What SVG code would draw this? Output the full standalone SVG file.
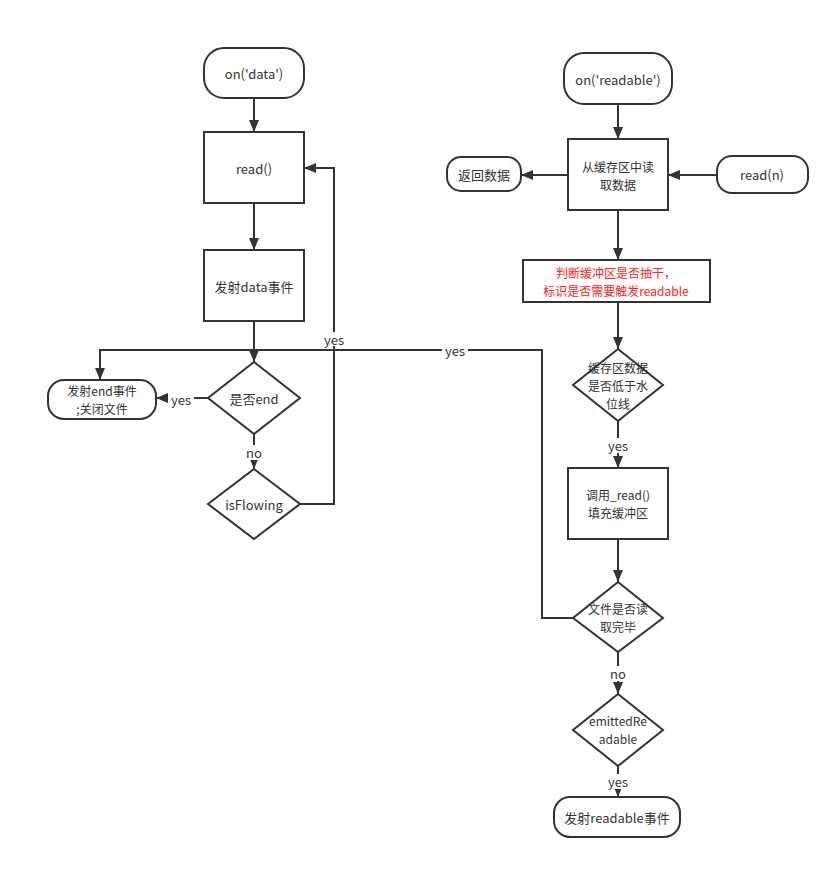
<svg xmlns="http://www.w3.org/2000/svg" width="840" height="869" viewBox="0 0 840 869">
<defs>
<marker id="arr" viewBox="0 0 12 10" refX="12" refY="5" markerWidth="12" markerHeight="10" markerUnits="userSpaceOnUse" orient="auto">
<path d="M0,0 L12,5 L0,10 Z" fill="#333"/>
</marker>
</defs>
<style>
.n{fill:#fff;stroke:#333;stroke-width:2}
.t{font-family:"Noto Sans CJK SC","Open Sans",sans-serif;font-size:13px;fill:#333;text-anchor:middle;dominant-baseline:central}
.m{font-size:12px}
.r{fill:#ff2222}
.c{fill:none;stroke:#333;stroke-width:2}
.lb{font-family:"Noto Sans CJK SC","Open Sans",sans-serif;font-size:13px;fill:#333;text-anchor:middle;dominant-baseline:central}
.lbg{fill:#fff}
</style>
<rect width="840" height="869" fill="#fff"/>
<g id="connectors">
<path class="c" d="M254,98 V132" marker-end="url(#arr)"/>
<path class="c" d="M254,203 V250" marker-end="url(#arr)"/>
<path class="c" d="M254,321 V362" marker-end="url(#arr)"/>
<path class="c" d="M208,398 H156" marker-end="url(#arr)"/>
<path class="c" d="M254,434 V469" marker-end="url(#arr)"/>
<path class="c" d="M300,504 H334 V168 H304" marker-end="url(#arr)"/>
<path class="c" d="M573,618 H542 V350 H100 V380" marker-end="url(#arr)"/>
<path class="c" d="M618,104 V139" marker-end="url(#arr)"/>
<path class="c" d="M568,175 H521" marker-end="url(#arr)"/>
<path class="c" d="M717,175 H668" marker-end="url(#arr)"/>
<path class="c" d="M618,210 V260" marker-end="url(#arr)"/>
<path class="c" d="M618,302 V349" marker-end="url(#arr)"/>
<path class="c" d="M618,421 V468" marker-end="url(#arr)"/>
<path class="c" d="M618,539 V582" marker-end="url(#arr)"/>
<path class="c" d="M618,652 V694" marker-end="url(#arr)"/>
<path class="c" d="M618,766 V797" marker-end="url(#arr)"/>
<rect class="lbg" x="168" y="391" width="26" height="15"/>
<text class="lb" x="181" y="399">yes</text>
<rect class="lbg" x="244" y="445" width="20" height="15"/>
<text class="lb" x="254" y="452">no</text>
<rect class="lbg" x="321" y="332" width="26" height="14"/>
<text class="lb" x="334" y="339">yes</text>
<rect class="lbg" x="442" y="343" width="26" height="14"/>
<text class="lb" x="455" y="350">yes</text>
<rect class="lbg" x="605" y="438" width="26" height="15"/>
<text class="lb" x="618" y="445">yes</text>
<rect class="lbg" x="608" y="666" width="20" height="15"/>
<text class="lb" x="618" y="673">no</text>
<rect class="lbg" x="605" y="774" width="26" height="15"/>
<text class="lb" x="618" y="781">yes</text>
</g>
<g id="on-data"><rect class="n" x="204" y="48" width="100" height="50" rx="20"/><text class="t" x="254" y="73">on('data')</text></g>
<g id="read"><rect class="n" x="204" y="132" width="100" height="71"/><text class="t" x="254" y="168">read()</text></g>
<g id="emit-data"><rect class="n" x="204" y="250" width="100" height="71"/><text class="t" x="254" y="286">发射data事件</text></g>
<g id="is-end"><path class="n" d="M254,362 L300,398 L254,434 L208,398 Z"/><text class="t" x="254" y="398">是否end</text></g>
<g id="emit-end"><rect class="n" x="48" y="380" width="108" height="39" rx="16"/><text class="t m" x="102" y="390.5">发射end事件</text><text class="t m" x="102" y="408.5">;关闭文件</text></g>
<g id="is-flowing"><path class="n" d="M254,469 L300,504 L254,539 L208,504 Z"/><text class="t" x="254" y="504">isFlowing</text></g>
<g id="on-readable"><rect class="n" x="564" y="53" width="108" height="51" rx="20"/><text class="t" x="618" y="79">on('readable')</text></g>
<g id="read-buffer"><rect class="n" x="568" y="139" width="100" height="71"/><text class="t m" x="618" y="166">从缓存区中读</text><text class="t m" x="618" y="184">取数据</text></g>
<g id="return-data"><rect class="n" x="447" y="157" width="74" height="34" rx="14"/><text class="t" x="484" y="174">返回数据</text></g>
<g id="read-n"><rect class="n" x="717" y="156" width="91" height="37" rx="15"/><text class="t" x="762" y="174">read(n)</text></g>
<g id="check-drain"><rect class="n" x="523" y="260" width="187" height="42"/><text class="t m r" x="616" y="272">判断缓冲区是否抽干，</text><text class="t m r" x="616" y="290">标识是否需要触发readable</text></g>
<g id="below-hwm"><path class="n" d="M618,349 L663,385 L618,421 L573,385 Z"/><text class="t m" x="618" y="367">缓存区数据</text><text class="t m" x="618" y="385">是否低于水</text><text class="t m" x="618" y="403">位线</text></g>
<g id="call-read"><rect class="n" x="568" y="468" width="100" height="71"/><text class="t m" x="618" y="494.5">调用_read()</text><text class="t m" x="618" y="512.5">填充缓冲区</text></g>
<g id="file-done"><path class="n" d="M618,582 L663,618 L618,652 L573,618 Z"/><text class="t m" x="618" y="608">文件是否读</text><text class="t m" x="618" y="626">取完毕</text></g>
<g id="emitted-readable"><path class="n" d="M618,694 L663,730 L618,766 L573,730 Z"/><text class="t m" x="618" y="720">emittedRe</text><text class="t m" x="618" y="738">adable</text></g>
<g id="emit-readable"><rect class="n" x="554" y="797" width="126" height="40" rx="16"/><text class="t" x="617" y="817">发射readable事件</text></g>
</svg>
